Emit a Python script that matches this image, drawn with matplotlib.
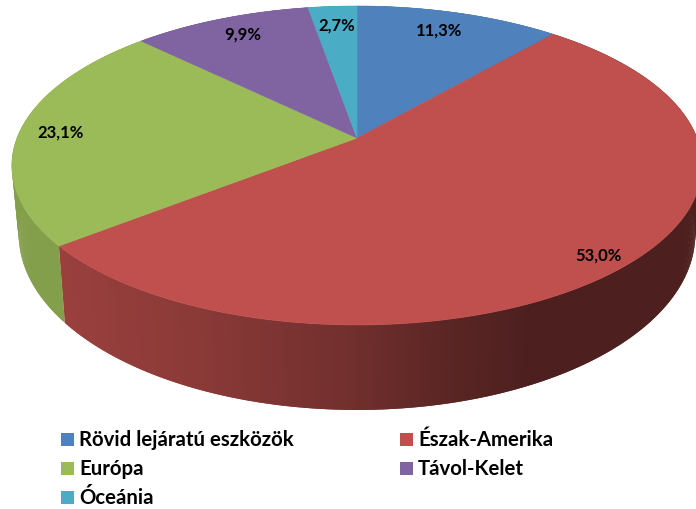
import numpy as np
import matplotlib
matplotlib.use("Agg")
import matplotlib.pyplot as plt
from matplotlib.patches import Polygon, Rectangle

categories = ["Rövid lejáratú eszközök", "Észak-Amerika", "Európa", "Távol-Kelet", "Óceánia"]
values = [11.3, 53.0, 23.1, 9.9, 2.7]
value_labels = ["11,3%", "53,0%", "23,1%", "9,9%", "2,7%"]
colors = ["#4f81bd", "#c0504d", "#9bbb59", "#8064a2", "#4bacc6"]

plt.rcParams["font.family"] = ["Lato", "DejaVu Sans"]
plt.rcParams["font.weight"] = "bold"

# pixel positions of the labels and legend rows
label_pos = [(439, 31), (598, 256), (61, 133), (243, 35), (337, 26)]
legend_pos = [(61, 440), (400, 440), (61, 469), (400, 469), (61, 498)]

# perspective of the tilted disc, fitted to the picture
CX, CY = 357, 139
D, A, C = 340, -130.8, 0.1724


def top_face(theta):
    u, v = np.sin(theta), np.cos(theta)
    w = 1 + C * v
    return CX + D * u / w, (CY + A * v) / w


def bottom_face(theta):
    x, y = top_face(theta)
    return CX + 0.98 * (x - CX), 52 + 1.101 * y


def side_color(base, x, dark):
    # side shading gets darker towards the right
    f = np.interp(x, [60, 200, 350, 450, 530], [0.80, 0.72, 0.59, 0.47, 0.40])
    if not dark:
        f = 0.85
    rgb = np.array(matplotlib.colors.to_rgb(base))
    return tuple(rgb * f)


fig = plt.figure(figsize=(6.96, 5.10), dpi=100)
ax = fig.add_axes([0, 0, 1, 1])
ax.set_xlim(0, 696)
ax.set_ylim(510, 0)
ax.axis("off")

edges = np.cumsum([0] + values) / sum(values) * 2 * np.pi

# side wall first, top face paints over the hidden part
for i in range(len(values)):
    steps = np.linspace(edges[i], edges[i + 1], max(int(values[i] * 8), 4) + 1)
    last = len(steps) - 2
    for k, (t0, t1) in enumerate(zip(steps[:-1], steps[1:])):
        # strips overlap the next one so no seams show
        t_end = steps[min(k + 2, last + 1)]
        x0, y0 = top_face(t0)
        x1, y1 = top_face(t_end)
        x2, y2 = bottom_face(t_end)
        x3, y3 = bottom_face(t0)
        c = side_color(colors[i], (x0 + top_face(t1)[0]) / 2, i == 1)
        ax.add_patch(Polygon([(x0, y0), (x1, y1), (x2, y2), (x3, y3)],
                             facecolor=c, edgecolor="none"))

for i in range(len(values)):
    t = np.linspace(edges[i], edges[i + 1], 120)
    x, y = top_face(t)
    pts = [(CX, CY)] + list(zip(x, y))
    ax.add_patch(Polygon(pts, facecolor=colors[i], edgecolor=colors[i], linewidth=0.4))

for (x, y), lab in zip(label_pos, value_labels):
    ax.text(x, y, lab, ha="center", va="center", fontsize=12, color="black")

for (x, y), name, col in zip(legend_pos, categories, colors):
    ax.add_patch(Rectangle((x, y - 6.5), 13, 13, facecolor=col, edgecolor="none"))
    ax.text(x + 18, y, name, ha="left", va="center", fontsize=14.7, color="black")

fig.savefig("out.png", dpi=100)
